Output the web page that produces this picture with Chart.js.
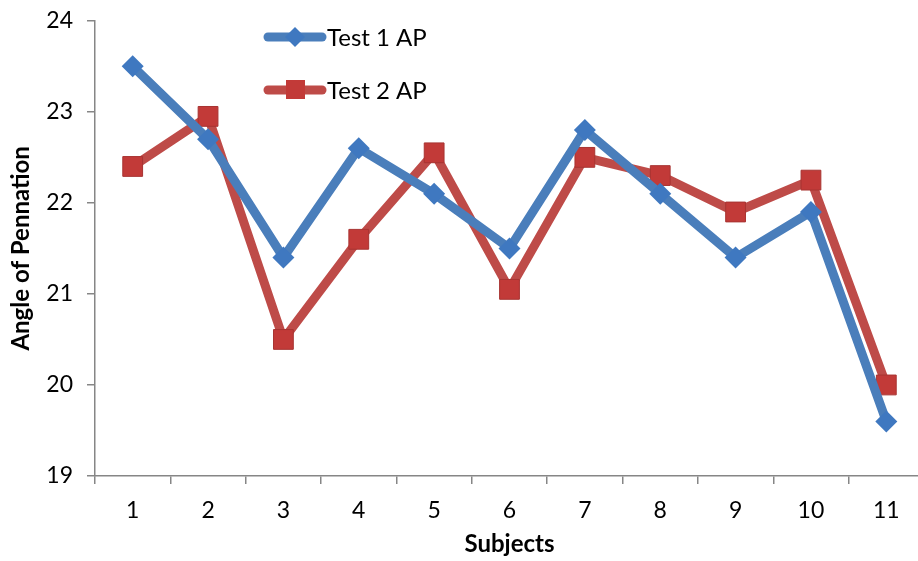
<!DOCTYPE html>
<html>
<head>
<meta charset="utf-8">
<script src="https://cdn.jsdelivr.net/npm/chart.js@4"></script>
<style>
  html, body { margin: 0; padding: 0; background: #fff; overflow: hidden; }
  #chart { display: block; margin-top: -7px; }
</style>
</head>
<body>
<canvas id="chart" width="939" height="568"></canvas>
<script>
// subjects and angle of pennation (degrees)
const subjects = ['1', '2', '3', '4', '5', '6', '7', '8', '9', '10', '11'];
const test1 = [23.5, 22.7, 21.4, 22.6, 22.1, 21.5, 22.8, 22.1, 21.4, 21.9, 19.6];
const test2 = [22.4, 22.95, 20.5, 21.6, 22.55, 21.05, 22.5, 22.3, 21.9, 22.25, 20.0];
const seriesNames = ['Test 1 AP', 'Test 2 AP'];

const FONT = 'Lato, "Open Sans", sans-serif';
const SHIFT = 7; // canvas is moved up by this much

// legend drawn inside the plot, Excel style
const insideLegend = {
  id: 'insideLegend',
  afterDraw(chart) {
    const ctx = chart.ctx;
    const rows = [37 + SHIFT, 90 + SHIFT];
    chart.data.datasets.forEach((ds, i) => {
      const y = rows[i];
      ctx.save();
      ctx.strokeStyle = ds.borderColor;
      ctx.lineWidth = 9;
      ctx.lineCap = 'round';
      ctx.beginPath();
      ctx.moveTo(268, y);
      ctx.lineTo(322, y);
      ctx.stroke();
      ctx.fillStyle = ds.pointBackgroundColor;
      if (i === 0) {
        ctx.beginPath();
        ctx.moveTo(295, y - 10); ctx.lineTo(305, y); ctx.lineTo(295, y + 10); ctx.lineTo(285, y);
        ctx.closePath(); ctx.fill();
      } else {
        ctx.fillRect(286, y - 10, 19, 19);
      }
      ctx.fillStyle = '#000';
      ctx.font = '24px ' + FONT;
      ctx.textBaseline = 'middle';
      ctx.fillText(ds.label, 327, y + 1);
      ctx.restore();
    });
  }
};

new Chart(document.getElementById('chart'), {
  type: 'line',
  data: {
    labels: subjects,
    datasets: [
      {
        label: seriesNames[0],
        data: test1,
        borderColor: '#4A7EBB',
        backgroundColor: '#4A7EBB',
        pointBackgroundColor: '#3F78C0',
        pointBorderColor: '#3F78C0',
        borderWidth: 9,
        pointStyle: 'rectRot',
        pointRadius: 11,
        pointBorderWidth: 0,
        tension: 0
      },
      {
        label: seriesNames[1],
        data: test2,
        borderColor: '#BE4B48',
        backgroundColor: '#BE4B48',
        pointBackgroundColor: '#C23A38',
        pointBorderColor: '#A83432',
        borderWidth: 9,
        pointStyle: 'rect',
        pointRadius: 14,
        pointBorderWidth: 1,
        tension: 0
      }
    ]
  },
  options: {
    responsive: false,
    animation: false,
    layout: { padding: { top: 12, right: 0, left: 7, bottom: 0 } },
    plugins: {
      legend: { display: false },
      tooltip: { enabled: false }
    },
    scales: {
      x: {
        offset: true,
        grid: {
          offset: true,
          drawOnChartArea: false,
          drawTicks: true,
          tickLength: 8,
          color: '#868686',
          lineWidth: 1.5
        },
        border: { color: '#868686', width: 1.5 },
        ticks: { color: '#000', font: { family: FONT, size: 23 }, padding: 13, maxRotation: 0 },
        title: {
          display: true,
          text: 'Subjects',
          color: '#000',
          font: { family: FONT, size: 24, weight: 'bold' },
          padding: { top: 4, bottom: 2 }
        },
        afterFit(scale) { scale.height = 85; }
      },
      y: {
        min: 19,
        max: 24,
        ticks: { stepSize: 1, color: '#000', font: { family: FONT, size: 23 }, padding: 14 },
        grid: {
          drawOnChartArea: false,
          drawTicks: true,
          tickLength: 8,
          color: '#868686',
          lineWidth: 1.5
        },
        border: { color: '#868686', width: 1.5 },
        title: {
          display: true,
          text: 'Angle of Pennation',
          color: '#000',
          font: { family: FONT, size: 24, weight: 'bold' },
          padding: { top: 0, bottom: 4 }
        },
        afterFit(scale) { scale.width = 88; }
      }
    }
  },
  plugins: [insideLegend]
});
</script>
</body>
</html>
